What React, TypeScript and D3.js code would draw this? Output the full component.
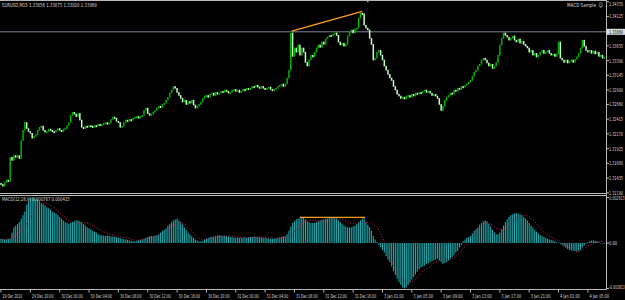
import React, { useLayoutEffect, useRef } from 'react';
import * as d3 from 'd3';

const W = 625;
const H = 300;

const symbolTitle = 'EURUSD,M15  1.33856 1.33875 1.33820 1.33869';
const macdTitle = 'MACD(12,26,9) 0.000767 0.000415';
const expertName = 'MACD Sample';

const firstOpen = 1.3135;
const closes = [
  1.3133,1.3130,1.3136,1.3140,1.3138,1.3178,1.3173,1.3181,1.3178,1.3181,
  1.3176,1.3206,1.3223,1.3236,1.3226,1.3221,1.3218,1.3210,1.3213,1.3216,
  1.3223,1.3228,1.3230,1.3223,1.3220,1.3221,1.3225,1.3223,1.3221,1.3220,
  1.3223,1.3226,1.3223,1.3221,1.3225,1.3226,1.3231,1.3236,1.3248,1.3253,
  1.3250,1.3246,1.3251,1.3240,1.3228,1.3226,1.3230,1.3228,1.3231,1.3230,
  1.3228,1.3231,1.3230,1.3233,1.3231,1.3233,1.3235,1.3236,1.3233,1.3235,
  1.3241,1.3245,1.3243,1.3238,1.3236,1.3228,1.3230,1.3236,1.3240,1.3238,
  1.3241,1.3240,1.3243,1.3245,1.3246,1.3243,1.3246,1.3248,1.3256,1.3260,
  1.3251,1.3248,1.3250,1.3253,1.3256,1.3260,1.3263,1.3261,1.3266,1.3268,
  1.3273,1.3278,1.3285,1.3290,1.3296,1.3293,1.3286,1.3281,1.3276,1.3270,
  1.3273,1.3266,1.3271,1.3268,1.3273,1.3265,1.3260,1.3263,1.3266,1.3270,
  1.3276,1.3280,1.3281,1.3278,1.3283,1.3285,1.3281,1.3286,1.3283,1.3285,
  1.3288,1.3286,1.3290,1.3288,1.3285,1.3286,1.3290,1.3291,1.3288,1.3290,
  1.3286,1.3288,1.3291,1.3290,1.3293,1.3291,1.3293,1.3296,1.3295,1.3298,
  1.3295,1.3293,1.3296,1.3293,1.3291,1.3293,1.3295,1.3291,1.3290,1.3291,
  1.3293,1.3296,1.3298,1.3300,1.3296,1.3300,1.3310,1.3323,1.3385,1.3346,
  1.3360,1.3353,1.3365,1.3348,1.3360,1.3353,1.3336,1.3330,1.3340,1.3348,
  1.3345,1.3353,1.3360,1.3365,1.3361,1.3370,1.3366,1.3375,1.3378,1.3381,
  1.3380,1.3383,1.3385,1.3381,1.3370,1.3365,1.3368,1.3363,1.3366,1.3380,
  1.3386,1.3390,1.3385,1.3392,1.3393,1.3410,1.3418,1.3417,1.3398,1.3393,
  1.3390,1.3376,1.3366,1.3340,1.3343,1.3353,1.3356,1.3348,1.3340,1.3330,
  1.3323,1.3316,1.3310,1.3306,1.3296,1.3290,1.3283,1.3280,1.3276,1.3278,
  1.3275,1.3280,1.3281,1.3278,1.3283,1.3280,1.3285,1.3283,1.3286,1.3285,
  1.3288,1.3290,1.3286,1.3288,1.3285,1.3281,1.3283,1.3280,1.3276,1.3266,
  1.3256,1.3263,1.3273,1.3278,1.3281,1.3285,1.3283,1.3290,1.3288,1.3293,
  1.3291,1.3296,1.3295,1.3298,1.3300,1.3303,1.3306,1.3313,1.3320,1.3323,
  1.3330,1.3333,1.3340,1.3343,1.3340,1.3335,1.3330,1.3333,1.3326,1.3330,
  1.3336,1.3348,1.3365,1.3376,1.3385,1.3381,1.3378,1.3373,1.3376,1.3380,
  1.3373,1.3370,1.3375,1.3368,1.3371,1.3366,1.3363,1.3360,1.3353,1.3356,
  1.3348,1.3351,1.3345,1.3348,1.3353,1.3356,1.3351,1.3353,1.3356,1.3351,
  1.3348,1.3350,1.3346,1.3350,1.3370,1.3343,1.3340,1.3336,1.3340,1.3335,
  1.3338,1.3340,1.3336,1.3341,1.3345,1.3351,1.3360,1.3373,1.3363,1.3356,
  1.3353,1.3356,1.3351,1.3355,1.3350,1.3353,1.3346,1.3348,1.3343,1.3345,
];

const macdMain = [
  2.3e-4,2.2e-4,2.0e-4,2.1e-4,2.3e-4,2.5e-4,6e-4,9e-4,10e-4,11e-4,
  12e-4,14e-4,16e-4,18e-4,22e-4,24e-4,26e-4,26.13e-4,26e-4,25.5e-4,
  25e-4,24e-4,23e-4,22.5e-4,21.5e-4,20.5e-4,20e-4,19e-4,18e-4,17.5e-4,
  17e-4,16e-4,15e-4,14e-4,13e-4,12e-4,11.5e-4,11e-4,11.5e-4,12e-4,
  12.5e-4,13e-4,13e-4,12.5e-4,12e-4,11e-4,10e-4,9e-4,8.5e-4,8e-4,
  7e-4,6.5e-4,6e-4,5e-4,4.5e-4,4.5e-4,4.2e-4,4e-4,4.2e-4,4e-4,
  3.8e-4,3.8e-4,3.5e-4,3.3e-4,3e-4,2.8e-4,2.5e-4,2.2e-4,2e-4,1.8e-4,
  1.5e-4,1.2e-4,1e-4,1e-4,1.2e-4,1.5e-4,1.8e-4,2e-4,2.5e-4,3e-4,
  3.5e-4,3.8e-4,4e-4,4e-4,4.2e-4,4.5e-4,5e-4,6e-4,7e-4,7.5e-4,
  8.5e-4,10e-4,11e-4,12e-4,13e-4,13.5e-4,14e-4,13e-4,12e-4,10.5e-4,
  9e-4,7.5e-4,6e-4,5e-4,4e-4,3e-4,2e-4,1.5e-4,1e-4,1e-4,
  1.2e-4,2e-4,2.5e-4,3e-4,3.5e-4,3.5e-4,3.8e-4,4e-4,4.2e-4,4.5e-4,
  4.3e-4,4e-4,4.2e-4,4e-4,3.8e-4,3.5e-4,3.3e-4,3.2e-4,3e-4,3.2e-4,
  3e-4,2.8e-4,3e-4,3.2e-4,3e-4,3.3e-4,3.5e-4,3.5e-4,3.8e-4,3.6e-4,
  3.5e-4,3.3e-4,3.2e-4,3e-4,3e-4,2.8e-4,2.6e-4,2.5e-4,2.5e-4,2.6e-4,
  2.8e-4,3e-4,3.2e-4,3.5e-4,3.8e-4,4e-4,5e-4,7e-4,9.5e-4,11.5e-4,
  12.5e-4,13.5e-4,14e-4,14.5e-4,15e-4,14.5e-4,13.5e-4,12.5e-4,12e-4,11.5e-4,
  11.5e-4,11.5e-4,12e-4,12.5e-4,13e-4,13.5e-4,13.5e-4,14e-4,14e-4,14.5e-4,
  14.5e-4,14.5e-4,14.5e-4,14e-4,13e-4,12e-4,11e-4,10e-4,9.5e-4,9e-4,
  9e-4,9e-4,9.5e-4,10e-4,11e-4,12e-4,13e-4,14e-4,14.5e-4,12e-4,
  10.5e-4,9e-4,7e-4,4e-4,2e-4,0.5e-4,-1e-4,-2.5e-4,-4e-4,-5.5e-4,
  -7.5e-4,-9.5e-4,-11e-4,-13.5e-4,-16e-4,-18.5e-4,-20.5e-4,-22.5e-4,-24e-4,-25.5e-4,
  -26.1e-4,-25.5e-4,-24e-4,-22.5e-4,-21e-4,-19.5e-4,-18e-4,-16.5e-4,-15e-4,-14e-4,
  -13.5e-4,-13e-4,-12e-4,-11.5e-4,-11e-4,-10.5e-4,-10e-4,-9.5e-4,-9e-4,-10e-4,
  -11e-4,-12e-4,-11.5e-4,-11e-4,-10e-4,-9e-4,-8e-4,-7e-4,-5.5e-4,-4.5e-4,
  -2.5e-4,-1e-4,1e-4,2e-4,3e-4,3.5e-4,4e-4,5.5e-4,7e-4,8e-4,
  9e-4,10.5e-4,11.5e-4,12.5e-4,13e-4,12.5e-4,11e-4,9.5e-4,7.5e-4,6e-4,
  5e-4,5e-4,6e-4,8e-4,10e-4,12e-4,13.5e-4,15e-4,16e-4,16.5e-4,
  17e-4,17.2e-4,17e-4,16.5e-4,16e-4,15e-4,14e-4,13e-4,11.5e-4,10e-4,
  9e-4,7.5e-4,6.5e-4,5.5e-4,4.5e-4,4e-4,3.5e-4,3e-4,2.5e-4,2e-4,
  1.8e-4,1.5e-4,1e-4,0.5e-4,0.2e-4,-0.5e-4,-1.2e-4,-2e-4,-2.8e-4,-3.5e-4,
  -4e-4,-4.3e-4,-4.5e-4,-4.7e-4,-4.8e-4,-4.5e-4,-4e-4,-2.5e-4,-1.5e-4,-0.5e-4,
  0.5e-4,1e-4,1.3e-4,1.5e-4,1.3e-4,1e-4,0.5e-4,0,-0.3e-4,-0.5e-4,
];

const macdSignal = [
  2.1e-4,2.1e-4,2.2e-4,2.2e-4,2.2e-4,2.3e-4,2.7e-4,3.5e-4,4.4e-4,5.3e-4,
  6.3e-4,7.6e-4,8.8e-4,10.1e-4,11.5e-4,13.2e-4,14.9e-4,16.5e-4,18e-4,19.4e-4,
  20.6e-4,21.6e-4,22.3e-4,22.8e-4,22.9e-4,22.7e-4,22.3e-4,21.8e-4,21.1e-4,20.3e-4,
  19.4e-4,18.5e-4,17.5e-4,16.5e-4,15.6e-4,14.6e-4,13.7e-4,12.8e-4,12.1e-4,11.6e-4,
  11.3e-4,11.2e-4,11.3e-4,11.5e-4,11.7e-4,11.8e-4,11.7e-4,11.5e-4,11.2e-4,10.7e-4,
  10e-4,9.3e-4,8.6e-4,8e-4,7.5e-4,7e-4,6.5e-4,6e-4,5.5e-4,5.1e-4,
  4.8e-4,4.5e-4,4.3e-4,4.1e-4,3.9e-4,3.7e-4,3.5e-4,3.3e-4,3.1e-4,2.8e-4,
  2.5e-4,2.2e-4,1.9e-4,1.7e-4,1.6e-4,1.6e-4,1.7e-4,1.8e-4,1.9e-4,2.1e-4,
  2.4e-4,2.7e-4,3e-4,3.3e-4,3.6e-4,3.9e-4,4.3e-4,4.8e-4,5.4e-4,6.1e-4,
  6.9e-4,7.8e-4,8.7e-4,9.6e-4,10.4e-4,11e-4,11.5e-4,11.8e-4,11.8e-4,11.5e-4,
  11e-4,10.3e-4,9.3e-4,8.2e-4,7e-4,5.8e-4,4.7e-4,3.8e-4,3e-4,2.4e-4,
  2e-4,2e-4,2.1e-4,2.3e-4,2.5e-4,2.8e-4,3e-4,3.2e-4,3.4e-4,3.6e-4,
  3.8e-4,3.9e-4,4e-4,4e-4,4e-4,3.9e-4,3.8e-4,3.7e-4,3.5e-4,3.4e-4,
  3.3e-4,3.2e-4,3.1e-4,3.1e-4,3.1e-4,3.1e-4,3.2e-4,3.2e-4,3.3e-4,3.4e-4,
  3.4e-4,3.4e-4,3.4e-4,3.4e-4,3.3e-4,3.2e-4,3.1e-4,3e-4,2.9e-4,2.8e-4,
  2.7e-4,2.7e-4,2.8e-4,2.9e-4,3e-4,3.1e-4,3.4e-4,3.9e-4,4.6e-4,5.5e-4,
  6.5e-4,7.6e-4,8.6e-4,9.6e-4,10.6e-4,11.5e-4,12.2e-4,12.7e-4,13e-4,13.1e-4,
  13.1e-4,13e-4,12.8e-4,12.6e-4,12.4e-4,12.3e-4,12.3e-4,12.5e-4,12.8e-4,13.1e-4,
  13.5e-4,13.8e-4,14e-4,14.1e-4,14e-4,13.8e-4,13.5e-4,13.1e-4,12.6e-4,12.1e-4,
  11.6e-4,11.3e-4,11.1e-4,11e-4,11e-4,11.1e-4,11.3e-4,11.5e-4,11.7e-4,11.8e-4,
  11.8e-4,11.7e-4,11.3e-4,10.7e-4,10e-4,9.3e-4,7.5e-4,5.5e-4,3e-4,0.5e-4,
  -2.5e-4,-5e-4,-7.8e-4,-10.3e-4,-12.8e-4,-15e-4,-17e-4,-18.8e-4,-20.2e-4,-21.2e-4,
  -22e-4,-22.5e-4,-22.7e-4,-22.6e-4,-22.3e-4,-21.8e-4,-21e-4,-19.8e-4,-18.5e-4,-17.3e-4,
  -16.3e-4,-15.6e-4,-14.9e-4,-14.2e-4,-13.5e-4,-12.6e-4,-11.8e-4,-11e-4,-10.5e-4,-10.1e-4,
  -9.8e-4,-9.7e-4,-9.7e-4,-9.7e-4,-9.7e-4,-9.6e-4,-9.1e-4,-8.3e-4,-7.4e-4,-6.3e-4,
  -5.3e-4,-4.2e-4,-3e-4,-1.7e-4,-0.5e-4,0.8e-4,2.3e-4,3.8e-4,5.3e-4,6.8e-4,
  8.1e-4,9.2e-4,10.2e-4,11e-4,11.4e-4,11.5e-4,11.3e-4,10.8e-4,10e-4,9.2e-4,
  8.5e-4,8.1e-4,7.9e-4,7.8e-4,7.8e-4,8.4e-4,9.4e-4,10.6e-4,11.8e-4,13e-4,
  14.1e-4,15e-4,15.6e-4,15.9e-4,16e-4,16e-4,15.8e-4,15.5e-4,15.1e-4,14.3e-4,
  13.3e-4,12.2e-4,11.2e-4,10e-4,8.7e-4,7.5e-4,6.4e-4,5.5e-4,4.6e-4,3.9e-4,
  3.3e-4,2.8e-4,2.3e-4,1.8e-4,1.3e-4,0.8e-4,0.2e-4,-0.6e-4,-1.4e-4,-2.2e-4,
  -3e-4,-3.5e-4,-4e-4,-4.5e-4,-4.9e-4,-5e-4,-4.8e-4,-4.2e-4,-3.2e-4,-2.4e-4,
  -1.7e-4,-1.1e-4,-0.6e-4,-0.2e-4,0.2e-4,0.6e-4,0.8e-4,0.8e-4,0.8e-4,0.8e-4,
];

const priceTickLabels = [
  '1.34370', '1.34125', '1.33635', '1.33390', '1.33145', '1.32900', '1.32660',
  '1.32415', '1.32170', '1.31925', '1.31680', '1.31435', '1.31190',
];
const currentPrice = 1.33869;
const currentPriceLabel = '1.33869';

const macdTickValues = [0.002613, 0, -0.002613];
const macdTickLabels = ['0.002613', '0.00', '-0.002613'];

const timeTickBars = [0, 16, 32, 48, 64, 80, 96, 112, 128, 144, 160, 176, 192, 208, 224, 240, 256, 272, 288, 304, 320];
const timeTickLabels = [
  '29 Dec 2010', '29 Dec 20:00', '30 Dec 00:00', '30 Dec 04:00', '30 Dec 08:00', '30 Dec 12:00',
  '30 Dec 16:00', '30 Dec 20:00', '31 Dec 00:00', '31 Dec 04:00', '31 Dec 08:00', '31 Dec 12:00',
  '31 Dec 16:00', '3 Jan 01:00', '3 Jan 05:00', '3 Jan 09:00', '3 Jan 13:00', '3 Jan 17:00',
  '3 Jan 21:00', '4 Jan 01:00', '4 Jan 05:00',
];

const priceTrendBars = [158.5, 197];
const priceTrendValues = [1.3388, 1.3421];
const macdTrendBars = [163, 198.5];
const macdTrendValues = [0.00147, 0.00147];
const markerBar = 200;

const FONT = "'DejaVu Sans', sans-serif";
const TXT = '#d8d8d8';
const FRAME = '#b8b8b8';

// Text squeezed horizontally to a target width (measured after mount).
function SText(props: { x: number; y: number; w: number; children: string; fill?: string; size?: number }) {
  const { x, y, w, children, fill = TXT, size = 5.5 } = props;
  return (
    <text
      data-x={x}
      data-y={y}
      data-w={w}
      transform={`translate(${x},${y})`}
      fontSize={size}
      fill={fill}
    >
      {children}
    </text>
  );
}

export default function App() {
  const ref = useRef<SVGSVGElement>(null);
  useLayoutEffect(() => {
    const svg = ref.current;
    if (!svg) return;
    svg.querySelectorAll('text[data-w]').forEach((node) => {
      const el = node as SVGTextElement;
      const L = el.getComputedTextLength();
      const w = +(el.getAttribute('data-w') || 0);
      const tx = el.getAttribute('data-x');
      const ty = el.getAttribute('data-y');
      if (L > 0 && w > 0) el.setAttribute('transform', `translate(${tx},${ty}) scale(${w / L},1)`);
    });
  });

  const n = closes.length;
  const x = d3.scaleLinear().domain([0, n]).range([1, 1 + n * 1.834]);
  const yP = d3.scaleLinear().domain([1.3119, 1.3437]).range([192.8, 1.7]);
  const yM = d3.scaleLinear().domain([-0.002613, 0.002613]).range([288.5, 197.5]);
  const opens = [firstOpen, ...closes.slice(0, -1)];
  const AX = 606.5;

  const signalPath = d3
    .line<number>()
    .x((_, i) => x(i))
    .y((v) => yM(v))(macdSignal) as string;

  const priceTrend = d3
    .line<number>()
    .x((b) => x(b))
    .y((_, i) => yP(priceTrendValues[i]))(priceTrendBars) as string;
  const macdTrend = d3
    .line<number>()
    .x((b) => x(b))
    .y((_, i) => yM(macdTrendValues[i]))(macdTrendBars) as string;

  const yCur = yP(currentPrice);
  const y0 = yM(0);

  return (
    <svg
      ref={ref}
      width={W}
      height={H}
      style={{ position: 'absolute', left: 0, top: 0, display: 'block' }}
      fontFamily={FONT}
    >
      <defs>
        <clipPath id="mainClip">
          <rect x={0} y={1} width={AX} height={192} />
        </clipPath>
        <clipPath id="macdClip">
          <rect x={0} y={196} width={AX} height={93} />
        </clipPath>
      </defs>
      <rect x={0} y={0} width={W} height={H} fill="#000" />

      {/* current price line */}
      <line x1={0} x2={AX} y1={yCur} y2={yCur} stroke="#7a8898" strokeWidth={1} />

      {/* candles */}
      <g clipPath="url(#mainClip)">
        {closes.map((c, i) => {
          const o = opens[i];
          const top = yP(Math.max(o, c));
          const bot = yP(Math.min(o, c));
          const h = Math.max(1.4, bot - top);
          const bull = c >= o;
          return (
            <rect
              key={i}
              x={x(i) - 0.75}
              y={top - 0.3}
              width={1.5}
              height={h + 0.6}
              fill={bull ? '#00b400' : '#c4ffc4'}
            />
          );
        })}
        <path d={priceTrend} stroke="#ffa020" strokeWidth={1.3} fill="none" />
      </g>

      {/* marker arrow */}
      <path
        d={`M${x(markerBar) - 1.8},0 L${x(markerBar) + 1.8},0 L${x(markerBar)},2.6 Z`}
        fill="#a8b8d0"
      />

      {/* MACD panel */}
      <g clipPath="url(#macdClip)">
        {macdMain.map((v, i) => {
          const yv = yM(v);
          return (
            <rect
              key={i}
              x={x(i) - 0.55}
              y={Math.min(yv, y0)}
              width={1.1}
              height={Math.max(0.5, Math.abs(yv - y0))}
              fill="#1ca8ac"
            />
          );
        })}
        <path d={signalPath} stroke="#d8205a" strokeWidth={1} fill="none" strokeDasharray="1 1.8" />
        <path d={macdTrend} stroke="#ffa020" strokeWidth={1.3} fill="none" />
      </g>

      {/* frames */}
      <line x1={0} x2={AX} y1={0.5} y2={0.5} stroke={FRAME} />
      <line x1={0} x2={AX} y1={193.5} y2={193.5} stroke={FRAME} />
      <line x1={0} x2={AX} y1={195.5} y2={195.5} stroke={FRAME} />
      <line x1={0} x2={AX} y1={289.5} y2={289.5} stroke={FRAME} />
      <line x1={AX} x2={AX} y1={0} y2={289.5} stroke={FRAME} />

      {/* price axis */}
      {priceTickLabels.map((s) => {
        const yy = yP(+s);
        return (
          <g key={s}>
            <line x1={AX} x2={AX + 2.5} y1={yy} y2={yy} stroke={FRAME} />
            <SText x={609} y={Math.max(yy + 2, 6)} w={14}>
              {s}
            </SText>
          </g>
        );
      })}
      <rect x={AX} y={yCur - 3} width={W - AX} height={6} fill="#dcdcdc" />
      <SText x={609} y={yCur + 2} w={14} fill="#000">
        {currentPriceLabel}
      </SText>

      {/* macd axis */}
      {macdTickValues.map((v, i) => {
        const yy = yM(v);
        const s = macdTickLabels[i];
        return (
          <g key={s}>
            <line x1={AX} x2={AX + 2.5} y1={yy} y2={yy} stroke={FRAME} />
            <SText x={609} y={Math.min(Math.max(yy + 2, 200), 289.2)} w={Math.min(s.length * 2.05, 15.8)}>
              {s}
            </SText>
          </g>
        );
      })}

      {/* time axis */}
      {timeTickBars.map((b, i) => {
        const xx = x(b);
        const s = timeTickLabels[i];
        return (
          <g key={b}>
            <line x1={xx} x2={xx} y1={289.5} y2={292.5} stroke={FRAME} />
            <SText x={xx + 1.5} y={298} w={s.length * 1.8}>
              {s}
            </SText>
          </g>
        );
      })}

      {/* titles */}
      <SText x={2} y={6.5} w={95}>
        {symbolTitle}
      </SText>
      <SText x={2} y={201} w={68}>
        {macdTitle}
      </SText>
      <SText x={567} y={6.5} w={29}>
        {expertName}
      </SText>
      <SText x={598.5} y={7} w={4.5} size={6}>
        ☺
      </SText>
    </svg>
  );
}
